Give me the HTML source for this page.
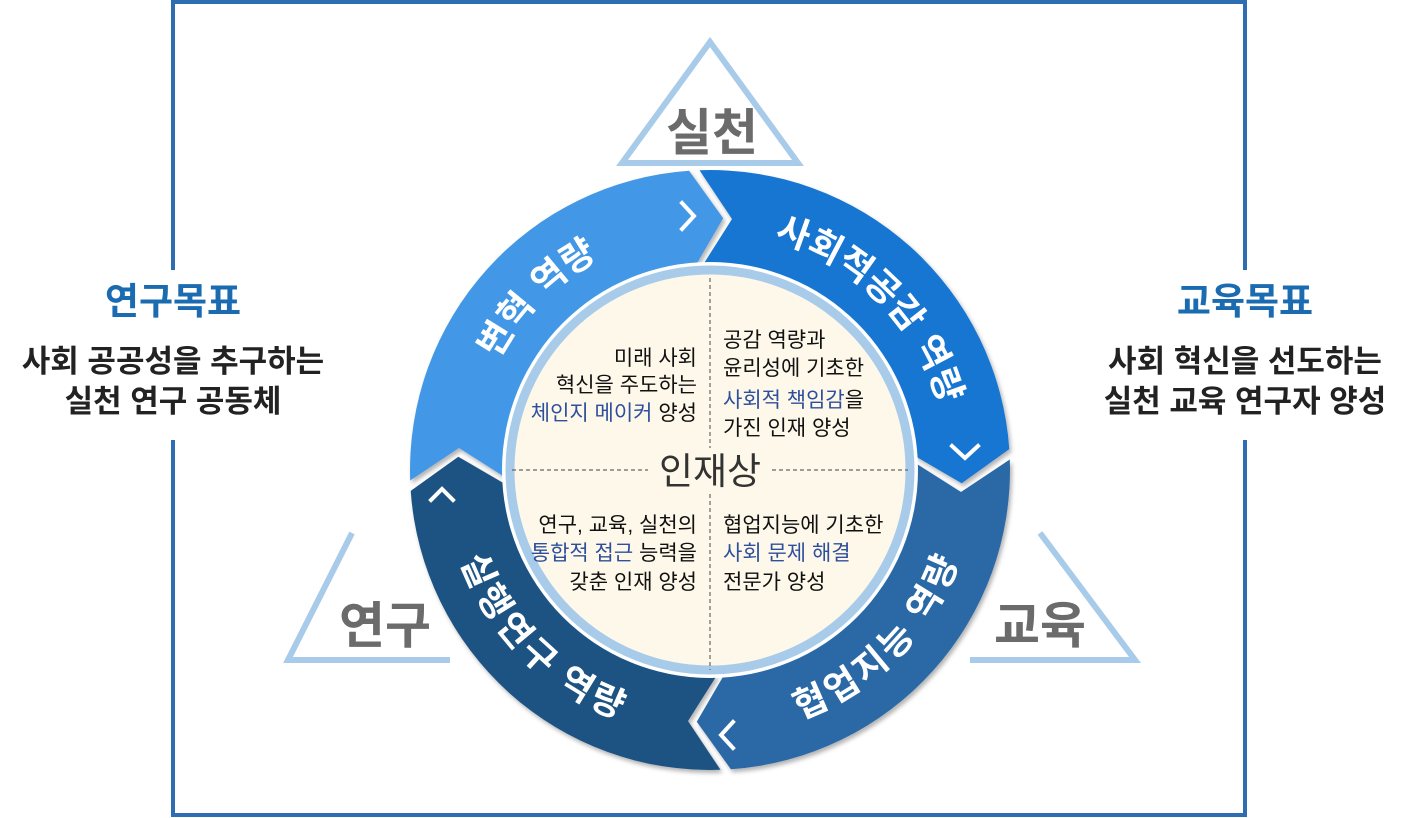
<!DOCTYPE html>
<html><head><meta charset="utf-8">
<style>
html,body{margin:0;padding:0;background:#fff;}
svg{display:block;}
text{font-family:"Liberation Sans","Noto Sans CJK KR",sans-serif;}
</style></head>
<body>
<svg width="1419" height="818" viewBox="0 0 1419 818" xmlns="http://www.w3.org/2000/svg">
<defs>
<filter id="sh" x="-10%" y="-10%" width="120%" height="120%">
<feDropShadow dx="2" dy="3" stdDeviation="2" flood-color="#000" flood-opacity="0.3"/>
</filter>
<path id="pTL" d="M458 470 A252 252 0 0 1 710 218"/>
<path id="pTR" d="M710 218 A252 252 0 0 1 962 470"/>
<path id="pBR" d="M710 722 A252 252 0 0 0 962 470"/>
<path id="pBL" d="M458 470 A252 252 0 0 0 710 722"/>
</defs>

<g stroke="#2e6db2" stroke-width="4" fill="none">
<path d="M173 270 L173 2 L1245 2 L1245 270"/>
<path d="M173 440 L173 815 L1245 815 L1245 440"/>
</g>

<g stroke="#a8cbea" stroke-width="6" fill="none" stroke-linejoin="miter">
<polygon points="622,163 710,42 798,163"/>
<polyline points="352,533 288,660 450,660"/>
<polyline points="1040,533 1135,660 970,660"/>
</g>
<g font-weight="bold" fill="#6b6b6b" font-size="50" text-anchor="middle">
<text x="712" y="150">실천</text>
<text x="385" y="643">연구</text>
<text x="1040" y="643">교육</text>
</g>

<g text-anchor="middle" font-weight="bold">
<text x="173" y="314" font-size="37" fill="#1a6bb0">연구목표</text>
<text x="173" y="372" font-size="31" fill="#222">사회 공공성을 추구하는</text>
<text x="173" y="412" font-size="31" fill="#222">실천 연구 공동체</text>
<text x="1245" y="314" font-size="37" fill="#1a6bb0">교육목표</text>
<text x="1245" y="372" font-size="31" fill="#222">사회 혁신을 선도하는</text>
<text x="1245" y="412" font-size="31" fill="#222">실천 교육 연구자 양성</text>
</g>

<g filter="url(#sh)">
<path fill="#4398e6" d="M410.2 480.5 A300 300 0 0 1 689.1 170.7 L723.2 218.3 L695.7 265.5 A205 205 0 0 0 505.1 477.2 L459.0 448.0 Z"/>
<path fill="#1976d2" d="M699.5 170.2 A300 300 0 0 1 1009.3 449.1 L961.7 483.2 L914.5 455.7 A205 205 0 0 0 702.8 265.1 L732.0 219.0 Z"/>
<path fill="#2b68a6" d="M1009.8 459.5 A300 300 0 0 1 730.9 769.3 L696.8 721.7 L724.3 674.5 A205 205 0 0 0 914.9 462.8 L961.0 492.0 Z"/>
<path fill="#1f5283" d="M720.5 769.8 A300 300 0 0 1 410.7 490.9 L458.3 456.8 L505.5 484.3 A205 205 0 0 0 717.2 674.9 L688.0 721.0 Z"/>
</g>

<g stroke="#fff" stroke-width="4" fill="none" stroke-linecap="square">
<polyline points="682,203 694,216 682,229"/>
<polyline points="952,446 965,458 978,446"/>
<polyline points="733,722 721,735 733,748"/>
<polyline points="431,500 442,489 453,500"/>
</g>

<g font-size="36" font-weight="bold" fill="#fff" dominant-baseline="central" letter-spacing="2">
<text><textPath href="#pTL" startOffset="50%" text-anchor="middle">변혁 역량</textPath></text>
<text><textPath href="#pTR" startOffset="50%" text-anchor="middle">사회적공감 역량</textPath></text>
<text><textPath href="#pBR" startOffset="50%" text-anchor="middle">협업지능 역량</textPath></text>
<text><textPath href="#pBL" startOffset="50%" text-anchor="middle">실행연구 역량</textPath></text>
</g>

<circle cx="710" cy="470" r="208" fill="#fff"/>
<circle cx="710" cy="470" r="200" fill="#fdf8ea" stroke="#a9cbea" stroke-width="9"/>

<g stroke="#666" stroke-width="1.2" stroke-dasharray="4 3">
<line x1="512" y1="470" x2="648" y2="470"/>
<line x1="772" y1="470" x2="908" y2="470"/>
<line x1="710" y1="278" x2="710" y2="448"/>
<line x1="710" y1="494" x2="710" y2="670"/>
</g>
<text x="710" y="484" font-size="37" text-anchor="middle" fill="#333">인재상</text>

<g font-size="21" fill="#111">
<g text-anchor="end">
<text x="697" y="365">미래 사회</text>
<text x="697" y="392">혁신을 주도하는</text>
<text x="697" y="420"><tspan fill="#2e4f9c">체인지 메이커</tspan> 양성</text>
<text x="697" y="532">연구, 교육, 실천의</text>
<text x="697" y="560"><tspan fill="#2e4f9c">통합적 접근</tspan> 능력을</text>
<text x="697" y="589">갖춘 인재 양성</text>
</g>
<text x="723" y="347">공감 역량과</text>
<text x="723" y="375">윤리성에 기초한</text>
<text x="723" y="407"><tspan fill="#2e4f9c">사회적 책임감</tspan>을</text>
<text x="723" y="435">가진 인재 양성</text>
<text x="723" y="532">협업지능에 기초한</text>
<text x="723" y="560" fill="#2e4f9c">사회 문제 해결</text>
<text x="723" y="589">전문가 양성</text>
</g>
</svg>
</body></html>
